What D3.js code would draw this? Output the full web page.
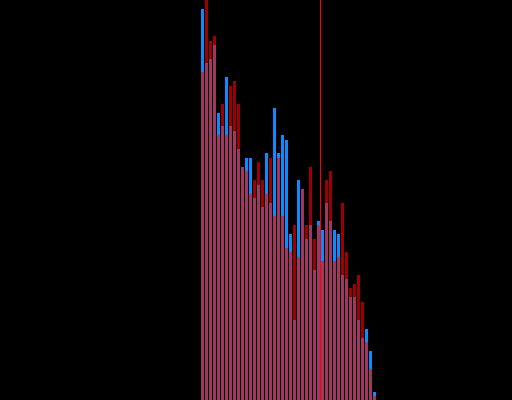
<!DOCTYPE html>
<html>
<head>
<meta charset="utf-8">
<script src="https://cdn.jsdelivr.net/npm/d3@7"></script>
<style>
  html, body { margin: 0; padding: 0; background: #000; }
  svg { display: block; }
</style>
</head>
<body>
<div id="chart"></div>
<script>
(function() {
    var width = 512,
        height = 400;

    // bin index for each bar
    var bins = d3.range(44);

    var blueValues = [391,337,341,355,287,274,323,274,269,251,233,242,242,202,215,193,247,197,292,247,265,260,
        166,80,220,211,161,175,130,179,170,197,179,170,166,125,121,103,103,80,62,71,49,8];

    var redValues = [328,400,359,364,265,296,265,314,319,296,233,229,206,220,238,220,206,242,184,242,184,152,
        148,175,143,211,175,233,161,175,139,220,229,139,143,197,148,112,116,125,98,58,31,4];

    // marker line position (in bin units)
    var markerValue = [29.75];

    var svg = d3.select("#chart")
        .append("svg")
        .attr("width", width)
        .attr("height", height)
        .style("background", "#000")

    var x = d3.scaleLinear().domain([0, 44]).range([201, 377])
    var y = d3.scaleLinear().domain([0, 400]).range([height, 0])

    var barW = x(1) - x(0) - 1

    svg.append("g")
        .selectAll("rect")
        .data(bins)
        .enter().append("rect")
        .attr("x", function(d) { return x(d) })
        .attr("y", function(d) { return y(blueValues[d]) })
        .attr("width", barW)
        .attr("height", function(d) { return height - y(blueValues[d]) })
        .attr("fill", "#0a8cff")
        .attr("shape-rendering", "crispEdges")

    svg.append("g")
        .selectAll("rect")
        .data(bins)
        .enter().append("rect")
        .attr("x", function(d) { return x(d) })
        .attr("y", function(d) { return y(redValues[d]) })
        .attr("width", barW)
        .attr("height", function(d) { return height - y(redValues[d]) })
        .attr("fill", "#ff0000")
        .attr("fill-opacity", 0.61)
        .attr("shape-rendering", "crispEdges")

    svg.selectAll("line.marker")
        .data(markerValue)
        .enter().append("line")
        .attr("class", "marker")
        .attr("x1", function(d) { return Math.floor(x(d)) + 0.5 })
        .attr("x2", function(d) { return Math.floor(x(d)) + 0.5 })
        .attr("y1", 0)
        .attr("y2", height)
        .attr("stroke", "#ff0000")
        .attr("stroke-width", 1)
        .attr("shape-rendering", "crispEdges")

})();
</script>
</body>
</html>
